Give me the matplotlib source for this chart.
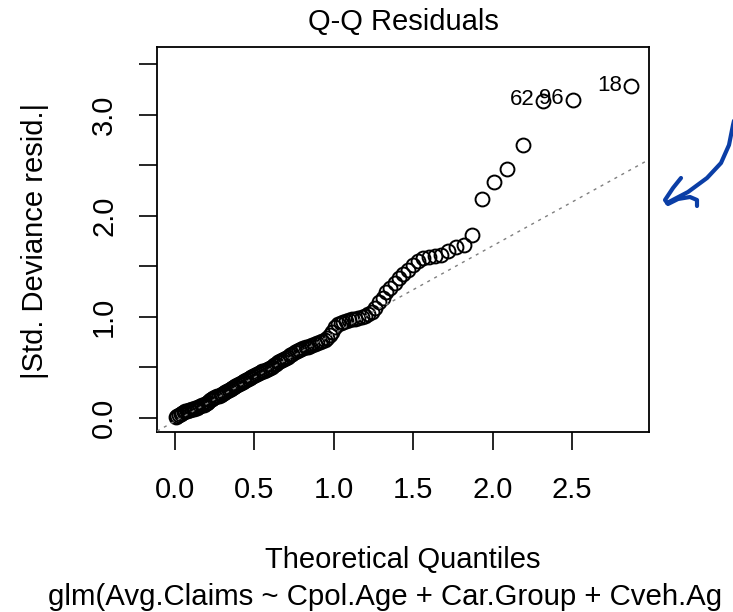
import matplotlib
matplotlib.use('Agg')
import matplotlib.pyplot as plt
from matplotlib.lines import Line2D

plt.rcParams['font.family'] = ['Liberation Sans', 'DejaVu Sans']

# Theoretical (half-normal) quantiles
theoretical = [
    0.005, 0.015, 0.025, 0.036, 0.046, 0.056, 0.066, 0.076, 0.087, 0.097,
    0.107, 0.117, 0.127, 0.138, 0.148, 0.160, 0.170, 0.180, 0.190, 0.201,
    0.211, 0.221, 0.232, 0.242, 0.253, 0.263, 0.276, 0.287, 0.297, 0.308,
    0.318, 0.329, 0.339, 0.350, 0.360, 0.371, 0.381, 0.392, 0.404, 0.415,
    0.426, 0.437, 0.448, 0.459, 0.470, 0.481, 0.493, 0.504, 0.516, 0.527,
    0.539, 0.551, 0.563, 0.575, 0.587, 0.599, 0.611, 0.623, 0.636, 0.648,
    0.661, 0.674, 0.687, 0.700, 0.713, 0.726, 0.740, 0.753, 0.767, 0.781,
    0.795, 0.809, 0.823, 0.837, 0.852, 0.866, 0.881, 0.896, 0.912, 0.927,
    0.943, 0.959, 0.975, 0.992, 1.009, 1.026, 1.043, 1.061, 1.079, 1.097,
    1.116, 1.135, 1.155, 1.175, 1.195, 1.217, 1.238, 1.261, 1.284, 1.307,
    1.332, 1.357, 1.383, 1.410, 1.438, 1.467, 1.498, 1.530, 1.564, 1.599,
    1.637, 1.677, 1.720, 1.767, 1.818, 1.873, 1.936, 2.007, 2.090, 2.190,
    2.320, 2.506, 2.874,
]

# |Std. deviance residuals|, sorted
abs_resid = [
    0.01, 0.02, 0.03, 0.04, 0.05, 0.06, 0.07, 0.07, 0.08, 0.08,
    0.09, 0.09, 0.10, 0.10, 0.11, 0.12, 0.13, 0.13, 0.14, 0.15,
    0.16, 0.17, 0.18, 0.19, 0.20, 0.21, 0.21, 0.22, 0.23, 0.24,
    0.25, 0.26, 0.27, 0.28, 0.29, 0.30, 0.31, 0.32, 0.33, 0.34,
    0.35, 0.36, 0.37, 0.38, 0.39, 0.40, 0.41, 0.42, 0.43, 0.44,
    0.45, 0.46, 0.46, 0.47, 0.48, 0.49, 0.50, 0.52, 0.53, 0.55,
    0.56, 0.57, 0.58, 0.59, 0.60, 0.62, 0.63, 0.65, 0.66, 0.67,
    0.68, 0.69, 0.70, 0.70, 0.71, 0.72, 0.73, 0.74, 0.75, 0.76,
    0.77, 0.79, 0.82, 0.85, 0.90, 0.93, 0.94, 0.95, 0.96, 0.97,
    0.98, 0.98, 0.99, 1.00, 1.01, 1.03, 1.05, 1.09, 1.15, 1.19,
    1.24, 1.28, 1.33, 1.38, 1.42, 1.46, 1.51, 1.55, 1.58, 1.59,
    1.60, 1.61, 1.65, 1.69, 1.71, 1.81, 2.17, 2.33, 2.46, 2.70,
    3.14, 3.15, 3.28,
]

# labelled observations: (label, index into the arrays above)
id_labels = ['62', '96', '18']
id_index = [120, 121, 122]

# reference line
line_intercept = -0.035
line_slope = 0.868

x_ticks = [0.0, 0.5, 1.0, 1.5, 2.0, 2.5]
x_tick_labels = ['0.0', '0.5', '1.0', '1.5', '2.0', '2.5']
y_ticks = [0.0, 1.0, 2.0, 3.0]
y_tick_labels = ['0.0', '1.0', '2.0', '3.0']
y_minor_ticks = [0.5, 1.5, 2.5, 3.5]

# sub caption as far as the screenshot shows it
sub_caption = 'glm(Avg.Claims ~ Cpol.Age + Car.Group + Cveh.Ag'

W, H = 733, 612
fig = plt.figure(figsize=(W / 100, H / 100), dpi=100)
ax = fig.add_axes([157 / W, 1 - 432 / H, 492 / W, 385 / H])

# points
ax.plot(theoretical, abs_resid, linestyle='none', marker='o', markersize=10,
        markerfacecolor='none', markeredgecolor='black', markeredgewidth=1.4)

# dotted reference line
ax.axline((0, line_intercept), slope=line_slope, color='#7f7f7f',
          linewidth=1.0, linestyle=(0, (2.2, 3.5)), zorder=3)

# id labels to the left of their points
for lab, i in zip(id_labels, id_index):
    ax.annotate(lab, (theoretical[i], abs_resid[i]), xytext=(-6.5, 1),
                textcoords='offset points', ha='right', va='center', fontsize=16)

ax.set_xlim(-0.113, 2.985)
ax.set_ylim(-0.142, 3.671)

ax.set_xticks(x_ticks)
ax.set_xticklabels(x_tick_labels)
ax.set_yticks(y_ticks)
ax.set_yticklabels(y_tick_labels, rotation=90, va='center')
ax.set_yticks(y_minor_ticks, minor=True)

ax.tick_params(axis='both', which='both', direction='out', length=13,
               width=1.2, labelsize=21)
ax.tick_params(axis='x', pad=19)
ax.tick_params(axis='y', pad=15)
for sp in ax.spines.values():
    sp.set_linewidth(1.3)

# titles
fig.text(403 / W, 1 - 22 / H, 'Q-Q Residuals', ha='center', va='center', fontsize=21)
fig.text(403 / W, 1 - 568 / H, 'Theoretical Quantiles', ha='center',
         va='baseline', fontsize=21)
fig.text(48 / W, 1 - 605 / H, sub_caption, ha='left', va='baseline', fontsize=21.2)
fig.text(35 / W, 1 - 241 / H, '|Std. Deviance resid.|', rotation=90,
         ha='center', va='center', fontsize=21)

# hand-drawn blue arrow on the right
arrow_body = [(737, 108), (733, 125), (729, 145), (721, 163), (707, 178),
              (688, 192), (667, 203)]
arrow_head = [(681, 178), (673, 188), (665, 200), (668, 204), (678, 199),
              (690, 197), (697, 200), (697, 206)]
for pts in (arrow_body, arrow_head):
    xs = [p[0] / W for p in pts]
    ys = [1 - p[1] / H for p in pts]
    fig.add_artist(Line2D(xs, ys, transform=fig.transFigure, color='#0b3ea6',
                          linewidth=3.0, solid_capstyle='round',
                          solid_joinstyle='round'))

fig.savefig('out.png', dpi=100)
